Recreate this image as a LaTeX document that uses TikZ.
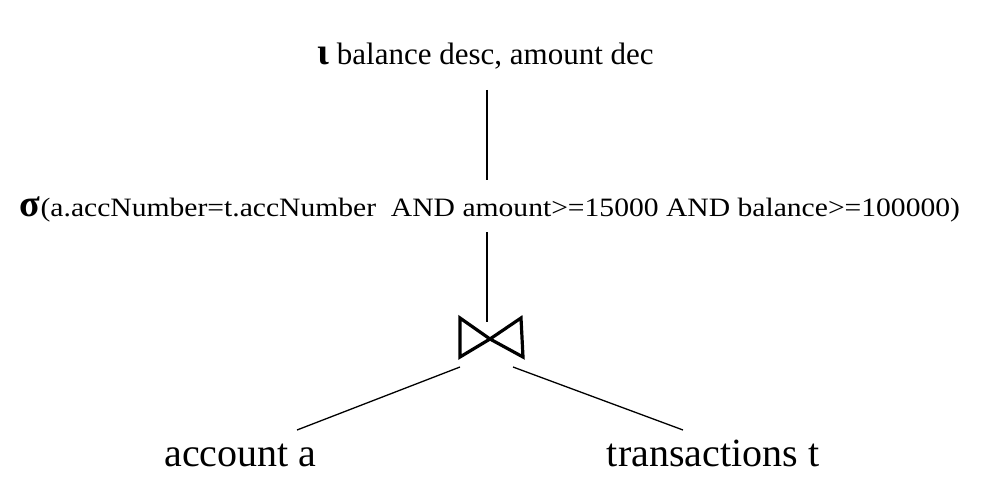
\documentclass[tikz,border=0pt]{standalone}
\usepackage{fontspec}
\setmainfont{Liberation Serif}
\begin{document}
\begin{tikzpicture}[x=1pt,y=-1pt,
  lbl/.style={inner sep=0pt, anchor=base},
  edge/.style={line width=1.3pt},
  bow/.style={line width=3.2pt, line join=miter}]
\useasboundingbox (0,0) rectangle (988,492);
\node[lbl, font=\fontsize{31}{36}\selectfont] (top) at (485.5,65) {{\bfseries\fontsize{38}{38}\selectfont ι} balance desc, amount dec};
\node[lbl, font=\fontsize{26.5}{30}\selectfont] (sigma) at (490,216) {{\bfseries\fontsize{38}{38}\selectfont σ}\scalebox{1.117}[1]{(a.accNumber=t.accNumber\ \ AND amount>=15000 AND balance>=100000)}};
\node[lbl, font=\fontsize{40}{44}\selectfont] (acc) at (240.5,466) {account a};
\node[lbl, font=\fontsize{40}{44}\selectfont] (trans) at (713,466) {transactions t};
% join symbol
\coordinate (join) at (490,339);
\draw[bow] (460,318) -- (460,357) -- (join) -- cycle;
\draw[bow] (join) -- (521,318) -- (523,357) -- cycle;
% connector end points
\coordinate (t1) at (487,90);
\coordinate (s1) at (487,180);
\coordinate (s2) at (487,232);
\coordinate (j1) at (487,322);
\coordinate (jl) at (460,367);
\coordinate (al) at (297,430);
\coordinate (jr) at (513,367);
\coordinate (tr) at (683,430);
\draw[edge] (t1) -- (s1);
\draw[edge] (s2) -- (j1);
\draw[edge] (jl) -- (al);
\draw[edge] (jr) -- (tr);
\end{tikzpicture}
\end{document}
